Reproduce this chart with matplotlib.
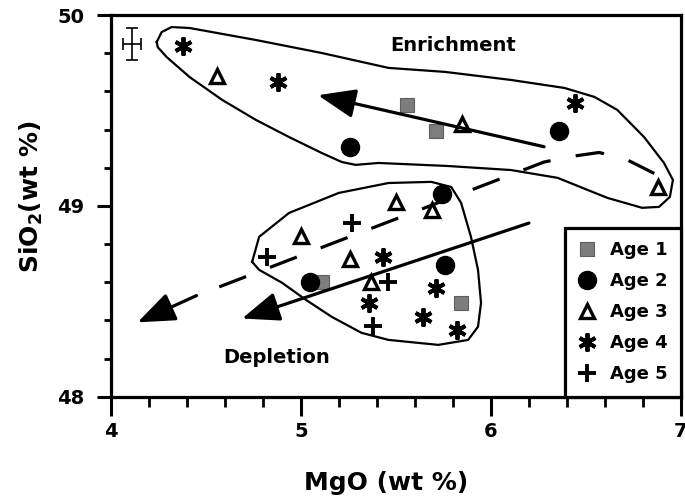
import matplotlib
matplotlib.use('Agg')
import matplotlib.pyplot as plt
from matplotlib.ticker import MultipleLocator

plt.rcParams['font.family'] = 'DejaVu Sans'
plt.rcParams['font.weight'] = 'bold'
plt.rcParams['axes.labelweight'] = 'bold'
plt.rcParams['mathtext.fontset'] = 'dejavusans'
plt.rcParams['mathtext.default'] = 'bf'

# MgO / SiO2 analyses (wt %) by age group
age1_mgo = [5.56, 5.71, 5.11, 5.84]
age1_sio2 = [49.53, 49.39, 48.60, 48.49]
age2_mgo = [5.26, 6.36, 5.74, 5.05, 5.76]
age2_sio2 = [49.31, 49.39, 49.06, 48.60, 48.69]
age3_mgo = [4.56, 5.85, 6.88, 5.50, 5.69, 5.00, 5.26, 5.37]
age3_sio2 = [49.68, 49.43, 49.10, 49.02, 48.98, 48.84, 48.72, 48.60]
age4_mgo = [4.38, 4.88, 6.44, 5.43, 5.36, 5.71, 5.64, 5.82]
age4_sio2 = [49.84, 49.65, 49.54, 48.73, 48.49, 48.57, 48.42, 48.35]
age5_mgo = [4.82, 5.27, 5.46, 5.38]
age5_sio2 = [48.73, 48.91, 48.60, 48.37]

# hand-drawn fields
enrich_x = [4.241, 4.267, 4.319, 4.414, 4.764, 5.110, 5.461, 5.759, 6.105, 6.387,
            6.545, 6.665, 6.806, 6.911, 6.958, 6.942, 6.885, 6.796, 6.613, 6.351,
            6.105, 5.775, 5.408, 5.288, 5.215, 5.110, 4.937, 4.764, 4.586, 4.414,
            4.293, 4.246, 4.241]
enrich_y = [49.859, 49.911, 49.937, 49.932, 49.869, 49.801, 49.723, 49.702, 49.660, 49.618,
            49.571, 49.503, 49.361, 49.225, 49.136, 49.047, 48.995, 48.990, 49.042, 49.147,
            49.188, 49.209, 49.225, 49.215, 49.230, 49.277, 49.361, 49.450, 49.555, 49.675,
            49.780, 49.832, 49.859]
deplete_x = [4.743, 4.780, 4.937, 5.199, 5.461, 5.686, 5.791, 5.843, 5.895, 5.932,
             5.948, 5.932, 5.880, 5.723, 5.461, 5.319, 5.162, 5.026, 4.901, 4.780, 4.743]
deplete_y = [48.707, 48.838, 48.963, 49.068, 49.120, 49.126, 49.099, 49.016, 48.838, 48.665,
             48.492, 48.367, 48.298, 48.272, 48.298, 48.335, 48.419, 48.508, 48.597, 48.665, 48.707]

# trend arrows (tail -> tip)
enrich_arrow = [(6.28, 49.31), (5.09, 49.58)]
deplete_arrow = [(6.20, 48.91), (4.69, 48.41)]
dashed_x = [6.86, 6.72, 6.57, 6.43, 6.28, 4.45]
dashed_y = [49.17, 49.24, 49.28, 49.26, 49.23, 48.53]
dashed_tip = (4.14, 48.39)

# analytical uncertainty
err_x, err_y = 4.11, 49.85
err_dx, err_dy = 0.047, 0.084

fig, ax = plt.subplots(figsize=(6.85, 5.01), dpi=100)
fig.subplots_adjust(left=0.162, right=0.994, bottom=0.208, top=0.970)

ax.plot(enrich_x, enrich_y, color='black', lw=1.6, solid_joinstyle='round')
ax.plot(deplete_x, deplete_y, color='black', lw=1.6, solid_joinstyle='round')

ax.plot(dashed_x, dashed_y, color='black', lw=2.3, linestyle=(0, (9, 8)))
head = dict(arrowstyle='-|>,head_length=1.15,head_width=0.45', color='black',
            lw=2.3, mutation_scale=20, shrinkA=0, shrinkB=0)
ax.annotate('', xy=dashed_tip, xytext=(dashed_x[-1], dashed_y[-1]), arrowprops=head)
ax.annotate('', xy=enrich_arrow[1], xytext=enrich_arrow[0], arrowprops=head)
ax.annotate('', xy=deplete_arrow[1], xytext=deplete_arrow[0], arrowprops=head)

ax.errorbar([err_x], [err_y], xerr=[err_dx], yerr=[err_dy], fmt='none',
            ecolor='black', elinewidth=1.2, capsize=4.5, capthick=1.2)

ax.plot(age1_mgo, age1_sio2, 's', ms=10.5, mfc='#7d7d7d', mec='#5e5e5e', mew=0.8,
        label='Age 1')
ax.plot(age2_mgo, age2_sio2, 'o', ms=13, color='black', label='Age 2')
ax.plot(age3_mgo, age3_sio2, '^', ms=10.5, mfc='white', mec='black', mew=2.4,
        label='Age 3')
ax.plot(age4_mgo, age4_sio2, marker=(6, 2, 0), ls='none', ms=13, color='black',
        mew=2.8, label='Age 4')
ax.plot(age5_mgo, age5_sio2, '+', ms=13, color='black', mew=2.8, label='Age 5')

ax.text(5.80, 49.84, 'Enrichment', fontsize=14, ha='center', va='center')
ax.text(4.874, 48.204, 'Depletion', fontsize=14, ha='center', va='center')

ax.set_xlim(4, 7)
ax.set_ylim(48, 50)
ax.xaxis.set_major_locator(MultipleLocator(1))
ax.xaxis.set_minor_locator(MultipleLocator(0.2))
ax.yaxis.set_major_locator(MultipleLocator(1))
ax.yaxis.set_minor_locator(MultipleLocator(0.2))

for s in ax.spines.values():
    s.set_linewidth(2.3)
ax.tick_params(axis='x', which='major', length=14, width=2.2, pad=4, labelsize=14)
ax.tick_params(axis='x', which='minor', length=7, width=2.0)
ax.tick_params(axis='y', which='major', length=10, width=2.2, pad=9, labelsize=14)
ax.tick_params(axis='y', which='minor', length=5, width=2.0)

ax.set_xlabel('MgO (wt %)', fontsize=18, fontweight='bold', va='center')
ax.xaxis.set_label_coords(0.482, -0.225)
ax.set_ylabel('SiO$_2$(wt %)', fontsize=18, fontweight='bold', va='center')
ax.yaxis.set_label_coords(-0.14, 0.524)

leg = ax.legend(loc='lower right', bbox_to_anchor=(1.0, 0.0), borderaxespad=0,
                fancybox=False, edgecolor='black', fontsize=13, handlelength=1.0,
                handletextpad=0.75, labelspacing=0.72, borderpad=0.75, framealpha=1)
leg.get_frame().set_linewidth(2.3)

fig.savefig('out.png', dpi=100)
